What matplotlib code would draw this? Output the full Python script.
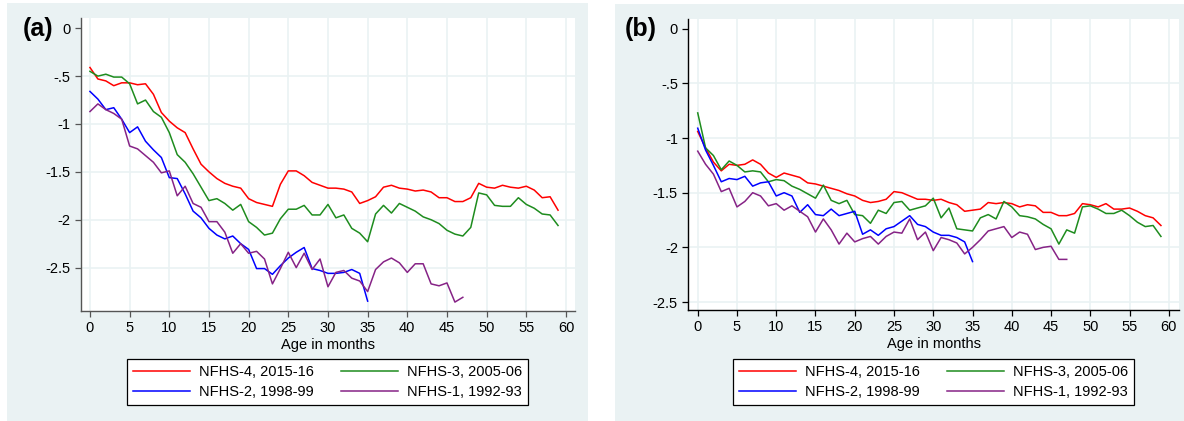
import matplotlib
matplotlib.use("Agg")
import matplotlib.pyplot as plt
from matplotlib.patches import Rectangle

plt.rcParams["font.family"] = ["Liberation Sans", "DejaVu Sans"]

# panel (a) values by month of age
a_nfhs4 = [-0.41, -0.53, -0.55, -0.60, -0.57, -0.57, -0.59, -0.58, -0.69, -0.88,
           -0.97, -1.04, -1.09, -1.26, -1.42, -1.50, -1.57, -1.62, -1.65, -1.67,
           -1.78, -1.82, -1.84, -1.86, -1.63, -1.49, -1.49, -1.54, -1.61, -1.64,
           -1.67, -1.67, -1.68, -1.71, -1.83, -1.80, -1.76, -1.66, -1.64, -1.67,
           -1.68, -1.70, -1.69, -1.71, -1.77, -1.77, -1.81, -1.81, -1.77, -1.62,
           -1.66, -1.67, -1.64, -1.66, -1.67, -1.65, -1.69, -1.77, -1.76, -1.90]
a_nfhs3 = [-0.45, -0.50, -0.48, -0.51, -0.51, -0.58, -0.79, -0.75, -0.87, -0.93,
           -1.09, -1.32, -1.40, -1.52, -1.66, -1.80, -1.78, -1.83, -1.90, -1.84,
           -2.02, -2.08, -2.16, -2.14, -1.99, -1.89, -1.89, -1.85, -1.95, -1.95,
           -1.84, -1.98, -1.95, -2.09, -2.14, -2.23, -1.94, -1.85, -1.93, -1.83,
           -1.87, -1.91, -1.97, -2.00, -2.04, -2.11, -2.15, -2.17, -2.08, -1.72,
           -1.74, -1.85, -1.86, -1.86, -1.77, -1.84, -1.88, -1.94, -1.95, -2.06]
a_nfhs2 = [-0.66, -0.74, -0.85, -0.83, -0.95, -1.09, -1.03, -1.18, -1.27, -1.35,
           -1.56, -1.57, -1.73, -1.91, -1.98, -2.09, -2.16, -2.20, -2.17, -2.25,
           -2.31, -2.51, -2.51, -2.57, -2.48, -2.40, -2.34, -2.29, -2.51, -2.53,
           -2.56, -2.56, -2.55, -2.52, -2.56, -2.85]
a_nfhs1 = [-0.87, -0.79, -0.85, -0.89, -0.95, -1.23, -1.26, -1.33, -1.40, -1.51,
           -1.49, -1.75, -1.65, -1.83, -1.87, -2.02, -2.02, -2.13, -2.35, -2.25,
           -2.35, -2.33, -2.41, -2.67, -2.51, -2.34, -2.50, -2.35, -2.52, -2.41,
           -2.70, -2.55, -2.53, -2.61, -2.64, -2.75, -2.52, -2.44, -2.40, -2.45,
           -2.55, -2.46, -2.46, -2.67, -2.69, -2.66, -2.86, -2.81]

# panel (b) values by month of age
b_nfhs4 = [-0.94, -1.09, -1.22, -1.30, -1.24, -1.25, -1.24, -1.20, -1.24, -1.32,
           -1.36, -1.32, -1.34, -1.36, -1.41, -1.42, -1.44, -1.46, -1.48, -1.51,
           -1.53, -1.57, -1.59, -1.58, -1.56, -1.49, -1.50, -1.53, -1.56, -1.56,
           -1.57, -1.56, -1.59, -1.61, -1.67, -1.66, -1.65, -1.59, -1.60, -1.59,
           -1.60, -1.63, -1.61, -1.62, -1.68, -1.68, -1.71, -1.71, -1.69, -1.60,
           -1.61, -1.63, -1.60, -1.65, -1.65, -1.64, -1.67, -1.71, -1.73, -1.80]
b_nfhs3 = [-0.77, -1.09, -1.16, -1.29, -1.21, -1.25, -1.31, -1.30, -1.31, -1.40,
           -1.38, -1.39, -1.44, -1.47, -1.51, -1.55, -1.43, -1.57, -1.60, -1.57,
           -1.70, -1.71, -1.78, -1.66, -1.69, -1.59, -1.58, -1.66, -1.64, -1.62,
           -1.55, -1.73, -1.64, -1.83, -1.84, -1.85, -1.73, -1.70, -1.74, -1.58,
           -1.63, -1.71, -1.72, -1.74, -1.79, -1.83, -1.97, -1.84, -1.87, -1.63,
           -1.62, -1.65, -1.69, -1.69, -1.66, -1.71, -1.77, -1.81, -1.80, -1.90]
b_nfhs2 = [-0.91, -1.11, -1.25, -1.40, -1.37, -1.38, -1.35, -1.44, -1.41, -1.40,
           -1.53, -1.50, -1.53, -1.68, -1.61, -1.70, -1.71, -1.65, -1.71, -1.69,
           -1.67, -1.88, -1.84, -1.89, -1.83, -1.81, -1.76, -1.71, -1.79, -1.81,
           -1.86, -1.89, -1.89, -1.91, -1.95, -2.13]
b_nfhs1 = [-1.12, -1.24, -1.33, -1.49, -1.46, -1.63, -1.58, -1.50, -1.53, -1.62,
           -1.60, -1.66, -1.62, -1.67, -1.72, -1.86, -1.74, -1.84, -1.97, -1.87,
           -1.95, -1.92, -1.90, -1.97, -1.90, -1.86, -1.87, -1.74, -1.93, -1.86,
           -2.03, -1.91, -1.93, -1.96, -2.06, -2.00, -1.93, -1.85, -1.83, -1.81,
           -1.91, -1.86, -1.88, -2.02, -2.00, -1.99, -2.11, -2.11]

labels = ["NFHS-4, 2015-16", "NFHS-3, 2005-06", "NFHS-2, 1998-99", "NFHS-1, 1992-93"]
colors = ["#ff0000", "#1e8c1e", "#0000ff", "#862386"]
x_ticks = list(range(0, 61, 5))
y_ticks = [0, -0.5, -1, -1.5, -2, -2.5]
y_ticklabels = ["0", "-.5", "-1", "-1.5", "-2", "-2.5"]

bg = "#eaf2f3"
fs = 10.5

fig = plt.figure(figsize=(11.84, 4.21), dpi=100)
fig.patches.append(Rectangle((7/1184, 0), (588-7)/1184, 1-3/421, transform=fig.transFigure,
                             facecolor=bg, edgecolor="none", zorder=-10))
fig.patches.append(Rectangle((615/1184, 0), 1-615/1184, 1-4/421, transform=fig.transFigure,
                             facecolor=bg, edgecolor="none", zorder=-10))

ax_a = fig.add_axes([81/1184, 1-310.7/421, (574.7-81)/1184, (310.7-18)/421])
ax_b = fig.add_axes([688.3/1184, 1-310/421, (1179-688.3)/1184, (310-19)/421])

panels = [
    (ax_a, [a_nfhs4, a_nfhs3, a_nfhs2, a_nfhs1], (-1.13, 61.1), (-2.95, 0.107), "(a)", 38, "#555555", 327.5),
    (ax_b, [b_nfhs4, b_nfhs3, b_nfhs2, b_nfhs1], (-1.2, 61.3), (-2.573, 0.089), "(b)", 641, "black", 933.5),
]

for ax, series, xl, yl, tag, tag_x, spc, leg_x in panels:
    ax.set_facecolor("white")
    for t in x_ticks:
        ax.axvline(t, color=bg, lw=1.2, zorder=0)
    for t in y_ticks[1:]:
        ax.axhline(t, color=bg, lw=1.2, zorder=0)
    lines = []
    for vals, c, lab in zip(series, colors, labels):
        ln, = ax.plot(range(len(vals)), vals, color=c, lw=1.1, label=lab)
        lines.append(ln)
    ax.set_xlim(*xl)
    ax.set_ylim(*yl)
    ax.set_xticks(x_ticks)
    ax.set_yticks(y_ticks)
    ax.set_yticklabels(y_ticklabels)
    ax.tick_params(direction="out", length=4.5, width=0.9, labelsize=fs, colors="black", pad=3)
    ax.tick_params(axis="both", color=spc)
    for s in ["top", "right"]:
        ax.spines[s].set_visible(False)
    for s in ["left", "bottom"]:
        ax.spines[s].set_color(spc)
        ax.spines[s].set_linewidth(1.0)
    ax.set_xlabel("Age in months", fontsize=fs, labelpad=2)
    fig.text(tag_x/1184, 1-29/421, tag, fontsize=18, fontweight="bold", ha="center", va="center")
    order = [0, 2, 1, 3]
    leg = ax.legend([lines[i] for i in order], [labels[i] for i in order], ncol=2,
                    loc="center", bbox_to_anchor=(leg_x/1184, 1-382/421),
                    bbox_transform=fig.transFigure, fontsize=fs, frameon=True,
                    fancybox=False, framealpha=1, edgecolor="black",
                    handlelength=3.9, handletextpad=0.6, columnspacing=1.9,
                    borderpad=0.4, labelspacing=0.45)
    leg.get_frame().set_linewidth(0.9)

fig.savefig("out.png", dpi=100)
